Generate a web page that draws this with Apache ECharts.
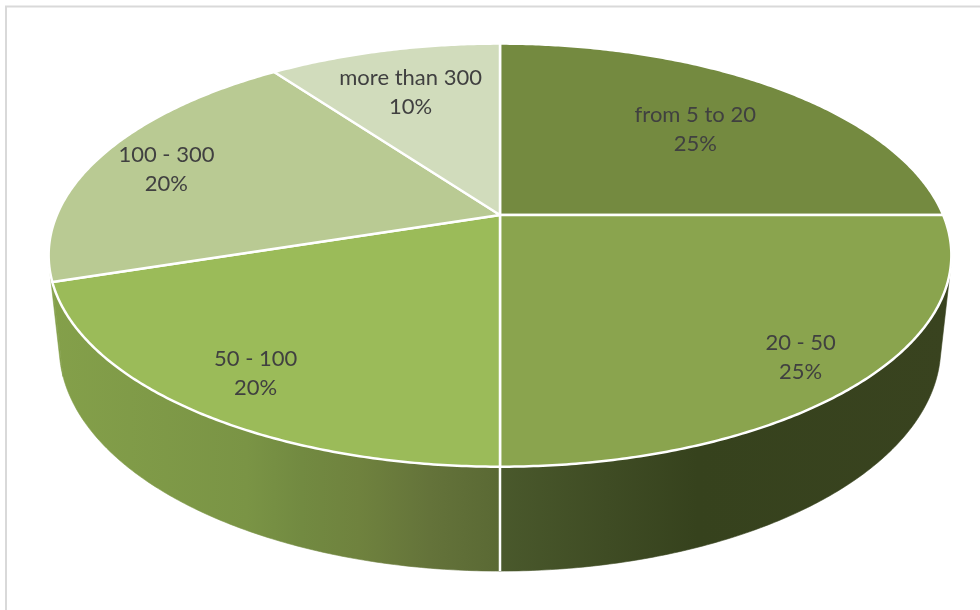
<!DOCTYPE html>
<html>
<head>
<meta charset="utf-8">
<style>
  html, body { margin: 0; padding: 0; background: #ffffff; }
  #chart { width: 980px; height: 610px; }
</style>
<script src="https://cdn.jsdelivr.net/npm/echarts@6/dist/echarts.min.js"></script>
</head>
<body>
<div id="chart"></div>
<script>
// Share of entries in each size band
const categories = ['from 5 to 20', '20 - 50', '50 - 100', '100 - 300', 'more than 300'];
const shares = [25, 25, 20, 20, 10];

// Slice appearance
const faceColors = ['#748a40', '#8aa44e', '#9bbb59', '#b9ca93', '#d1dcbc'];
// How far along each slice's middle radius its label sits
const labelReach = [0.68, 0.85, 0.82, 0.83, 0.74];
// Side wall shading, left to right across the disc
const wallStops = [
  [0.00, '#84a04a'], [0.22, '#7a9445'], [0.28, '#728a41'], [0.345, '#6f823e'],
  [0.423, '#64733a'], [0.5, '#5a6934'],
  [0.5, '#4a592c'], [0.62, '#3f4c24'], [0.72, '#36421d'], [1.00, '#39431f']
];

// Camera looking down on a disc of radius 1
const CX = 500, CY = 215;
const FOCAL = 2074, DIST = 4.68, TILT = 27.4 * Math.PI / 180;
const THICKNESS = 0.236;
const LEFT = 49, WIDTH = 900;
const LABEL_DROP = 4;

function project(deg, radius, z) {
  const a = deg * Math.PI / 180;
  const x = radius * Math.sin(a), y = radius * Math.cos(a);
  const depth = DIST + y * Math.cos(TILT) - z * Math.sin(TILT);
  const up = y * Math.sin(TILT) + z * Math.cos(TILT);
  return [CX + FOCAL * x / depth, CY - FOCAL * up / depth];
}

function arc(from, to, z) {
  const pts = [];
  const n = Math.max(1, Math.ceil(Math.abs(to - from) * 2));
  for (let i = 0; i <= n; i++) pts.push(project(from + (to - from) * i / n, 1, z));
  return pts;
}

const total = shares.reduce((s, v) => s + v, 0);
function sliceAngles(index) {
  let before = 0;
  for (let i = 0; i < index; i++) before += shares[i];
  return [before / total * 360, (before + shares[index]) / total * 360];
}

// The wall faces the viewer only on this stretch of the rim
const silhouette = Math.acos(-1 / (DIST * Math.cos(TILT))) * 180 / Math.PI;
const WALL_FROM = silhouette, WALL_TO = 360 - silhouette;

const wallFill = {
  type: 'linear', global: true, x: LEFT, y: 0, x2: LEFT + WIDTH, y2: 0,
  colorStops: wallStops.map(([offset, color]) => ({ offset, color }))
};

function renderWall(params) {
  const [start, end] = sliceAngles(params.dataIndex);
  const from = Math.max(start, WALL_FROM), to = Math.min(end, WALL_TO);
  if (to <= from) return { type: 'group', children: [] };
  const children = [{
    type: 'polygon',
    shape: { points: arc(from, to, 0).concat(arc(to, from, -THICKNESS)) },
    style: { fill: wallFill, stroke: wallFill, lineWidth: 0.6 }
  }];
  // Seam between neighbouring walls, skipped when the wall is only a sliver
  if (start > WALL_FROM && to - from > 10) {
    const a = project(start, 1, 0), b = project(start, 1, -THICKNESS);
    children.push({
      type: 'line',
      shape: { x1: a[0], y1: a[1], x2: b[0], y2: b[1] },
      style: { stroke: '#ffffff', lineWidth: 2.5 },
      z2: 5
    });
  }
  return { type: 'group', children };
}

function renderFace(params) {
  const i = params.dataIndex;
  const [start, end] = sliceAngles(i);
  const mid = (start + end) / 2;
  const at = project(mid, labelReach[i], 0);
  const pct = Math.round(shares[i] / total * 100) + '%';
  return {
    type: 'group',
    children: [
      {
        type: 'polygon',
        shape: { points: [project(0, 0, 0)].concat(arc(start, end, 0)) },
        style: { fill: faceColors[i], stroke: '#ffffff', lineWidth: 2.5, lineJoin: 'round' }
      },
      {
        type: 'text',
        z2: 10,
        style: {
          x: at[0], y: at[1] + LABEL_DROP,
          text: categories[i] + '\n' + pct,
          fill: '#404040',
          font: '22px Lato',
          lineHeight: 29,
          align: 'center',
          verticalAlign: 'middle'
        }
      }
    ]
  };
}

const chart = echarts.init(document.getElementById('chart'), null, { renderer: 'canvas' });
chart.setOption({
  animation: false,
  backgroundColor: '#ffffff',
  graphic: [{
    type: 'rect',
    shape: { x: 6, y: 6.5, width: 1100, height: 800 },
    style: { fill: 'none', stroke: '#d9d9d9', lineWidth: 2 },
    silent: true
  }],
  series: [
    { type: 'custom', coordinateSystem: 'none', silent: true, z: 2, renderItem: renderWall, data: shares },
    { type: 'custom', coordinateSystem: 'none', silent: true, z: 3, renderItem: renderFace, data: shares }
  ]
});
</script>
</body>
</html>
